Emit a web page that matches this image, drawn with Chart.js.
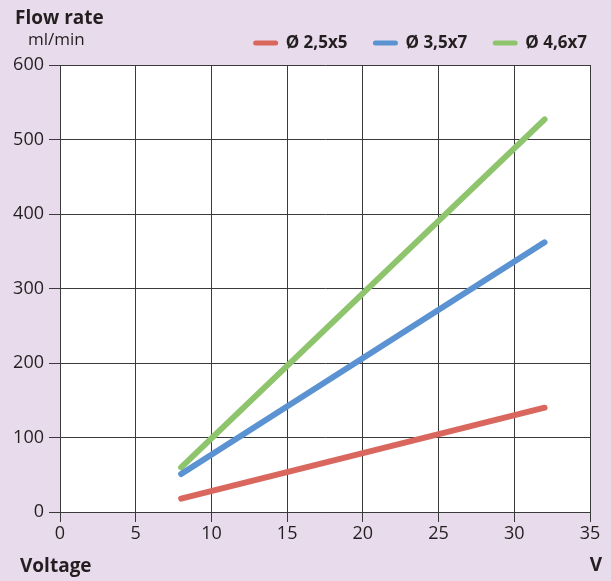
<!DOCTYPE html>
<html>
<head>
<meta charset="utf-8">
<script src="https://cdn.jsdelivr.net/npm/chart.js@4"></script>
<style>
    html, body { margin: 0; padding: 0; background: #e8dcec; }
    #wrap { width: 611px; height: 581px; position: relative; }
</style>
</head>
<body>
<div id="wrap"><canvas id="flowChart" width="611" height="581"></canvas></div>
<script>
// voltage (V) at both ends of each line
const voltages = [8, 32];

// flow rate (ml/min)
const flowSmall = [18, 140];   // Ø 2,5x5
const flowMedium = [51, 362];  // Ø 3,5x7
const flowLarge = [60, 527];   // Ø 4,6x7

const seriesNames = ['Ø 2,5x5', 'Ø 3,5x7', 'Ø 4,6x7'];
const seriesColors = ['#d9675d', '#5b93d2', '#8ec56c'];
const yTicks = [0, 100, 200, 300, 400, 500, 600];

const FONT = "'Open Sans', 'DejaVu Sans', sans-serif";
const TEXT = '#231f20';
const GRID = '#3a3a3a';

function toPoints(ys) {
    return voltages.map((v, i) => ({ x: v, y: ys[i] }));
}

// white plot area, axis titles and the legend row
const decorations = {
    id: 'decorations',
    beforeDraw(chart) {
        const { ctx, chartArea } = chart;
        ctx.save();
        ctx.fillStyle = '#ffffff';
        ctx.fillRect(chartArea.left, chartArea.top, chartArea.right - chartArea.left, chartArea.bottom - chartArea.top);
        ctx.restore();
    },
    afterDraw(chart) {
        const { ctx } = chart;
        ctx.save();
        ctx.fillStyle = TEXT;
        ctx.textBaseline = 'middle';
        ctx.textAlign = 'left';
        ctx.font = 'bold 19px ' + FONT;
        ctx.fillText('Flow rate', 15, 19);
        ctx.font = '17px ' + FONT;
        ctx.fillText('ml/min', 28, 40);
        ctx.font = 'bold 19px ' + FONT;
        ctx.fillText('Voltage', 20, 567);
        ctx.textAlign = 'right';
        ctx.fillText('V', 602, 566);

        // legend, laid out from the right
        ctx.font = 'bold 17px ' + FONT;
        ctx.textAlign = 'left';
        let x = 587;
        const items = chart.data.datasets.map(d => ({ label: d.label, color: d.borderColor }));
        for (let i = items.length - 1; i >= 0; i--) {
            const w = ctx.measureText(items[i].label).width;
            const tx = x - w;
            ctx.fillStyle = TEXT;
            ctx.fillText(items[i].label, tx, 43);
            ctx.strokeStyle = items[i].color;
            ctx.lineWidth = 5;
            ctx.lineCap = 'round';
            ctx.beginPath();
            ctx.moveTo(tx - 30, 43);
            ctx.lineTo(tx - 10, 43);
            ctx.stroke();
            x = tx - 32 - 26;
        }
        ctx.restore();
    }
};

const ctx = document.getElementById('flowChart').getContext('2d');
new Chart(ctx, {
    type: 'line',
    data: {
        datasets: [flowSmall, flowMedium, flowLarge].map((ys, i) => ({
            label: seriesNames[i],
            data: toPoints(ys),
            borderColor: seriesColors[i],
            backgroundColor: seriesColors[i],
            borderWidth: 6,
            pointRadius: 0,
            borderCapStyle: 'round',
            fill: false,
            tension: 0
        }))
    },
    options: {
        responsive: false,
        animation: false,
        layout: { padding: { top: 65, right: 21, bottom: 34, left: 0 } },
        plugins: {
            legend: { display: false },
            tooltip: { enabled: false }
        },
        scales: {
            x: {
                type: 'linear',
                min: 0,
                max: 35,
                ticks: { stepSize: 5, color: TEXT, padding: 1, font: { family: FONT, size: 18 } },
                grid: { color: GRID, lineWidth: 1, tickLength: 10, tickColor: GRID },
                border: { color: GRID, width: 1 },
                afterFit(scale) { scale.height = 35; }
            },
            y: {
                min: 0,
                max: 600,
                afterBuildTicks(scale) { scale.ticks = yTicks.map(v => ({ value: v })); },
                ticks: { color: TEXT, padding: 5, font: { family: FONT, size: 18 } },
                grid: { color: GRID, lineWidth: 1, tickLength: 11, tickColor: GRID },
                border: { color: GRID, width: 1 },
                afterFit(scale) { scale.width = 60; }
            }
        }
    },
    plugins: [decorations]
});
</script>
</body>
</html>
